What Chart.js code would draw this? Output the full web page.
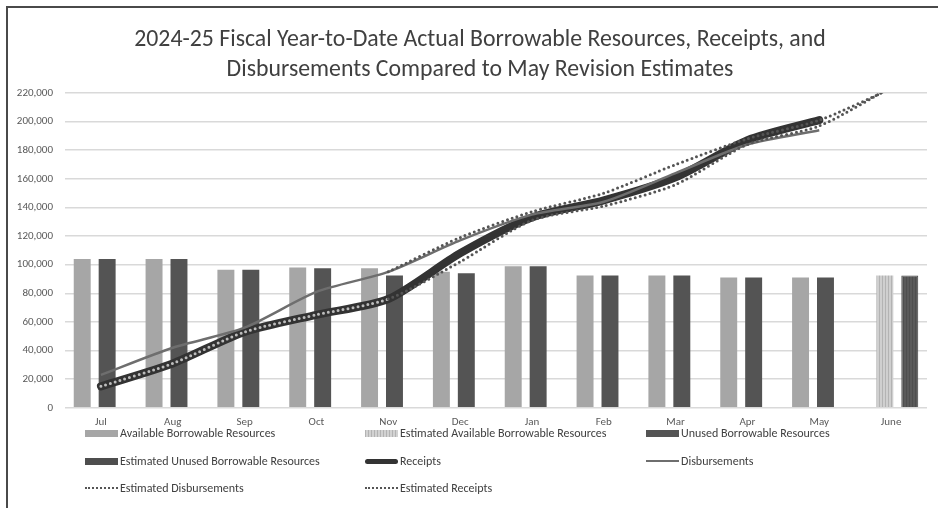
<!DOCTYPE html>
<html>
<head>
<meta charset="utf-8">
<script src="https://cdn.jsdelivr.net/npm/chart.js@4.4.1/dist/chart.umd.min.js"></script>
<style>
  html, body { margin: 0; padding: 0; background: #fff; }
  #wrap { position: relative; width: 938px; height: 508px; overflow: hidden; font-family: Carlito, Lato, sans-serif; }
  #frame { position: absolute; left: 6px; top: 6px; width: 1000px; height: 1000px;
           border-left: 2px solid #4a4a4a; border-top: 2px solid #4a4a4a; }
  #chart { position: absolute; left: 0; top: 0; }
  #title { position: absolute; left: 22px; top: 23px; width: 916px; text-align: center;
           font-size: 23.8px; line-height: 29.5px; color: #404040; }
  .lg { position: absolute; height: 14px; font-size: 12px; line-height: 14px; color: #404040; white-space: nowrap; }
  .lg .sw { position: absolute; left: 0; width: 33px; }
  .lg span { position: absolute; left: 35px; top: 0; }
</style>
</head>
<body>
<div id="wrap">
  <div id="frame"></div>
  <canvas id="chart" width="938" height="508"></canvas>
  <div id="title"></div>
  <div id="legend"></div>
</div>
<script>
// months of the 2024-25 fiscal year
const months = ['Jul', 'Aug', 'Sep', 'Oct', 'Nov', 'Dec', 'Jan', 'Feb', 'Mar', 'Apr', 'May', 'June'];

// bars
const availableBorrowable    = [104000, 104000, 96500, 98000, 97500, 95000, 99000, 92500, 92500, 91000, 91000, null];
const estAvailableBorrowable = [null, null, null, null, null, null, null, null, null, null, null, 92500];
const unusedBorrowable       = [104000, 104000, 96500, 97500, 92500, 94000, 99000, 92500, 92500, 91000, 91000, null];
const estUnusedBorrowable    = [null, null, null, null, null, null, null, null, null, null, null, 92500];

// lines
const receipts         = [15000, 31000, 53000, 65000, 76000, 108000, 133000, 145000, 161000, 187000, 201000, null];
const disbursements    = [23000, 42000, 56000, 81000, 95000, 117000, 135000, 144000, 164000, 184000, 194000, null];
const estDisbursements = [null, null, null, null, 95000, 119000, 137000, 150000, 170000, 188000, 201000, 223000];
const estReceipts      = [15000, 31000, 53000, 65000, 76000, 102000, 131000, 141000, 156000, 184000, 197000, 224000];

const titleLines = ['2024-25 Fiscal Year-to-Date Actual Borrowable Resources, Receipts, and',
                    'Disbursements Compared to May Revision Estimates'];

const yMax = 220000;
const yStep = 20000;

const FONT = 'Carlito, Lato, sans-serif';

// striped fill for the estimated bars
function stripes(bg, fg) {
    const c = document.createElement('canvas');
    c.width = 3; c.height = 3;
    const g = c.getContext('2d');
    g.fillStyle = bg; g.fillRect(0, 0, 3, 3);
    g.fillStyle = fg; g.fillRect(0, 0, 1, 3);
    return g.createPattern(c, 'repeat');
}

// title sits a little right of the canvas centre in the original, so it is plain html
document.getElementById('title').innerHTML = titleLines.join('<br>');

const barOpts = { categoryPercentage: 0.694, barPercentage: 1.36, order: 10 };
const lineOpts = { type: 'line', fill: false, pointRadius: 0, pointHoverRadius: 0, tension: 0.25 };

let borrowChart = new Chart('chart', {
    type: 'bar',
    data: {
        labels: months,
        datasets: [
            { ...barOpts, label: 'Available Borrowable Resources', data: availableBorrowable, backgroundColor: '#a6a6a6' },
            { ...barOpts, label: 'Estimated Available Borrowable Resources', data: estAvailableBorrowable,
              backgroundColor: stripes('#cfcfcf', '#b3b3b3') },
            { ...barOpts, label: 'Unused Borrowable Resources', data: unusedBorrowable, backgroundColor: '#545454' },
            { ...barOpts, label: 'Estimated Unused Borrowable Resources', data: estUnusedBorrowable,
              backgroundColor: stripes('#5a5a5a', '#4e4e4e'), borderColor: '#444', borderWidth: 1 },
            { ...lineOpts, label: 'Receipts', data: receipts, borderColor: '#333', borderWidth: 8,
              borderCapStyle: 'round', borderJoinStyle: 'round', order: 3 },
            { ...lineOpts, label: 'Disbursements', data: disbursements, borderColor: '#6e6e6e', borderWidth: 2.5, order: 2 },
            { ...lineOpts, label: 'Estimated Disbursements', data: estDisbursements, borderColor: '#555',
              borderWidth: 3, borderDash: [0, 5], borderCapStyle: 'round', order: 1 },
            { ...lineOpts, label: 'Estimated Receipts', data: estReceipts, borderColor: '#555',
              borderWidth: 3, borderDash: [0, 5], borderCapStyle: 'round', order: 0,
              segment: { borderColor: ctx => ctx.p1DataIndex <= 4 ? '#bdbdbd' : '#555' } }
        ]
    },
    options: {
        responsive: false,
        animation: false,
        layout: { padding: { left: 0, right: 11, top: 93, bottom: 79 } },
        plugins: {
            legend: { display: false },
            tooltip: { enabled: false },
            title: { display: false }
        },
        scales: {
            x: {
                grid: { display: false },
                border: { display: false },
                ticks: { color: '#595959', font: { family: FONT, size: 11 }, padding: 0, maxRotation: 0, autoSkip: false }
            },
            y: {
                min: 0,
                max: yMax,
                afterFit: s => { s.width = 65; },
                border: { display: false },
                grid: { color: '#d9d9d9', lineWidth: 1.5, drawTicks: false },
                ticks: {
                    stepSize: yStep,
                    color: '#595959',
                    font: { family: FONT, size: 11 },
                    padding: 12,
                    callback: v => v.toLocaleString('en-US')
                }
            }
        }
    }
});

// legend laid out in three columns like the original
const legendItems = [
    { text: 'Available Borrowable Resources', x: 85, y: 426, kind: 'bar', color: '#a6a6a6' },
    { text: 'Estimated Available Borrowable Resources', x: 365, y: 426, kind: 'stripe' },
    { text: 'Unused Borrowable Resources', x: 646, y: 426, kind: 'bar', color: '#545454' },
    { text: 'Estimated Unused Borrowable Resources', x: 85, y: 454, kind: 'bar', color: '#4e4e4e' },
    { text: 'Receipts', x: 365, y: 454, kind: 'thick' },
    { text: 'Disbursements', x: 646, y: 454, kind: 'thin' },
    { text: 'Estimated Disbursements', x: 85, y: 481, kind: 'dot' },
    { text: 'Estimated Receipts', x: 365, y: 481, kind: 'dot' }
];
const legendBox = document.getElementById('legend');
legendItems.forEach(it => {
    const d = document.createElement('div');
    d.className = 'lg';
    d.style.left = it.x + 'px';
    d.style.top = it.y + 'px';
    d.style.width = '270px';
    const sw = document.createElement('div');
    sw.className = 'sw';
    if (it.kind === 'bar') { sw.style.top = '4px'; sw.style.height = '7px'; sw.style.background = it.color; }
    if (it.kind === 'stripe') { sw.style.top = '4px'; sw.style.height = '7px';
        sw.style.background = 'repeating-linear-gradient(90deg, #b3b3b3 0 1px, #d2d2d2 1px 3px)'; }
    if (it.kind === 'thick') { sw.style.top = '5px'; sw.style.height = '5px'; sw.style.background = '#333'; sw.style.borderRadius = '3px'; }
    if (it.kind === 'thin') { sw.style.top = '6px'; sw.style.height = '2px'; sw.style.background = '#6e6e6e'; }
    if (it.kind === 'dot') { sw.style.top = '6px'; sw.style.height = '0'; sw.style.borderTop = '2px dotted #555'; }
    const t = document.createElement('span');
    t.textContent = it.text;
    d.appendChild(sw);
    d.appendChild(t);
    legendBox.appendChild(d);
});
</script>
</body>
</html>
